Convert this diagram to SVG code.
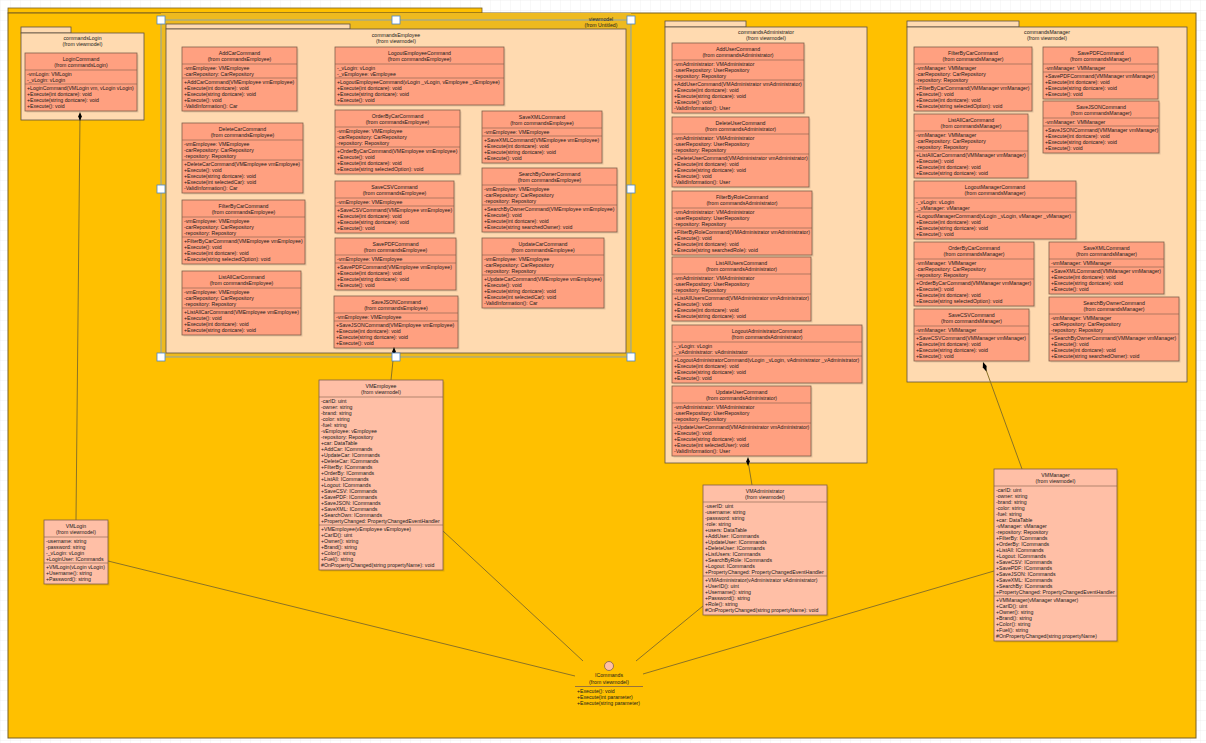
<svg xmlns="http://www.w3.org/2000/svg" width="1206" height="743" viewBox="0 0 1206 743">
<defs>
<pattern id="grid" width="10" height="10" patternUnits="userSpaceOnUse"><path d="M10 0H0V10" fill="none" stroke="#E6E6E6" stroke-width="0.6"/></pattern>
<style>
.t{font-family:"Liberation Sans",Arial,sans-serif;font-size:5.2px;fill:#1A1A1A}
.c{text-anchor:middle}
.cls{fill:#FFA080;stroke:#7F5F4A;stroke-width:0.8}
.vm{fill:#FFBFA6;stroke:#7F5F4A;stroke-width:0.8}
.pk{fill:#FFDAB0;stroke:#5E5043;stroke-width:0.8}
.ln{stroke:#7F5F4A;stroke-width:0.6;fill:none}
.sh{fill:#000;opacity:0.1}
.cn{stroke:#8C7325;stroke-width:1;fill:none}
.hd{fill:#FFFFFF;stroke:#4A86C8;stroke-width:0.8}
</style>
</defs>
<rect width="1206" height="743" fill="#FFFFFF"/>
<rect width="1206" height="743" fill="url(#grid)"/>

<g id="pkg-viewmodel">
<rect x="8" y="8" width="474" height="5" fill="#FFC000" stroke="#7A6020" stroke-width="0.8"/>
<rect x="8" y="13" width="1188" height="725" fill="#FFC000" stroke="#7A6020" stroke-width="1"/>
</g>

<g id="selection-frame">
<rect x="161" y="13" width="470" height="344" fill="#EEBA1F"/>
<rect x="161" y="20" width="470" height="337" fill="none" stroke="#6E9FD6" stroke-width="0.8"/>
</g>
<g id="viewmodel-label">
<text class="t c" x="601" y="20.8">viewmodel</text>
<text class="t c" x="601" y="26.8">(from Untitled)</text>
</g>

<!-- commandsLogin -->
<g id="pkg-commandsLogin">
<rect class="pk" x="21" y="27" width="50" height="6"/>
<rect class="pk" x="21" y="33" width="123" height="87"/>
<text class="t c" x="82.5" y="40">commandsLogin</text>
<text class="t c" x="82.5" y="46">(from viewmodel)</text>
</g>
<g id="login-LoginCommand" transform="translate(25,53)">
<rect class="sh" x="1.5" y="1.5" width="112" height="58"/><rect class="cls" width="112" height="58"/><path class="ln" d="M0 17H112M0 31H112"/>
<text class="t c" x="56" y="7.8">LoginCommand</text><text class="t c" x="56" y="13.8">(from commandsLogin)</text>
<text class="t" x="2" y="22.6"><tspan x="2">-vmLogin: VMLogin</tspan><tspan x="2" dy="6">-_vLogin: vLogin</tspan></text>
<text class="t" x="2" y="37"><tspan x="2">+LoginCommand(VMLogin vm, vLogin vLogin)</tspan><tspan x="2" dy="6">+Execute(int dontcare): void</tspan><tspan x="2" dy="6">+Execute(string dontcare): void</tspan><tspan x="2" dy="6">+Execute(): void</tspan></text>
</g>

<!-- commandsEmployee -->
<g id="pkg-commandsEmployee">
<rect class="pk" x="166" y="24" width="184" height="5"/>
<rect class="pk" x="166" y="29" width="460" height="324"/>
<text class="t c" x="396" y="36.8">commandsEmployee</text>
<text class="t c" x="396" y="42.8">(from viewmodel)</text>
</g>
<g id="emp-AddCarCommand" transform="translate(182,47)">
<rect class="sh" x="1.5" y="1.5" width="115" height="64"/><rect class="cls" width="115" height="64"/><path class="ln" d="M0 17H115M0 31H115"/>
<text class="t c" x="57.5" y="7.8">AddCarCommand</text><text class="t c" x="57.5" y="13.8">(from commandsEmployee)</text>
<text class="t" x="2" y="22.6"><tspan x="2">-vmEmployee: VMEmployee</tspan><tspan x="2" dy="6">-carRepository: CarRepository</tspan></text>
<text class="t" x="2" y="37"><tspan x="2">+AddCarCommand(VMEmployee vmEmployee)</tspan><tspan x="2" dy="6">+Execute(int dontcare): void</tspan><tspan x="2" dy="6">+Execute(string dontcare): void</tspan><tspan x="2" dy="6">+Execute(): void</tspan><tspan x="2" dy="6">-ValidInformation(): Car</tspan></text>
</g>
<g id="emp-DeleteCarCommand" transform="translate(182,123)">
<rect class="sh" x="1.5" y="1.5" width="121" height="70"/><rect class="cls" width="121" height="70"/><path class="ln" d="M0 17H121M0 37H121"/>
<text class="t c" x="60.5" y="7.8">DeleteCarCommand</text><text class="t c" x="60.5" y="13.8">(from commandsEmployee)</text>
<text class="t" x="2" y="22.6"><tspan x="2">-vmEmployee: VMEmployee</tspan><tspan x="2" dy="6">-carRepository: CarRepository</tspan><tspan x="2" dy="6">-repository: Repository</tspan></text>
<text class="t" x="2" y="43"><tspan x="2">+DeleteCarCommand(VMEmployee vmEmployee)</tspan><tspan x="2" dy="6">+Execute(): void</tspan><tspan x="2" dy="6">+Execute(string dontcare): void</tspan><tspan x="2" dy="6">+Execute(int selectedCar): void</tspan><tspan x="2" dy="6">-ValidInformation(): Car</tspan></text>
</g>
<g id="emp-FilterByCarCommand" transform="translate(182,200)">
<rect class="sh" x="1.5" y="1.5" width="123" height="64"/><rect class="cls" width="123" height="64"/><path class="ln" d="M0 17H123M0 37H123"/>
<text class="t c" x="61.5" y="7.8">FilterByCarCommand</text><text class="t c" x="61.5" y="13.8">(from commandsEmployee)</text>
<text class="t" x="2" y="22.6"><tspan x="2">-vmEmployee: VMEmployee</tspan><tspan x="2" dy="6">-carRepository: CarRepository</tspan><tspan x="2" dy="6">-repository: Repository</tspan></text>
<text class="t" x="2" y="43"><tspan x="2">+FilterByCarCommand(VMEmployee vmEmployee)</tspan><tspan x="2" dy="6">+Execute(): void</tspan><tspan x="2" dy="6">+Execute(int dontcare): void</tspan><tspan x="2" dy="6">+Execute(string selectedOption): void</tspan></text>
</g>
<g id="emp-ListAllCarCommand" transform="translate(182,271)">
<rect class="sh" x="1.5" y="1.5" width="119" height="64"/><rect class="cls" width="119" height="64"/><path class="ln" d="M0 17H119M0 37H119"/>
<text class="t c" x="59.5" y="7.8">ListAllCarCommand</text><text class="t c" x="59.5" y="13.8">(from commandsEmployee)</text>
<text class="t" x="2" y="22.6"><tspan x="2">-vmEmployee: VMEmployee</tspan><tspan x="2" dy="6">-carRepository: CarRepository</tspan><tspan x="2" dy="6">-repository: Repository</tspan></text>
<text class="t" x="2" y="43"><tspan x="2">+ListAllCarCommand(VMEmployee vmEmployee)</tspan><tspan x="2" dy="6">+Execute(): void</tspan><tspan x="2" dy="6">+Execute(int dontcare): void</tspan><tspan x="2" dy="6">+Execute(string dontcare): void</tspan></text>
</g>
<g id="emp-LogoutEmployeeCommand" transform="translate(335,47)">
<rect class="sh" x="1.5" y="1.5" width="169" height="58"/><rect class="cls" width="169" height="58"/><path class="ln" d="M0 17H169M0 31H169"/>
<text class="t c" x="84.5" y="7.8">LogoutEmployeeCommand</text><text class="t c" x="84.5" y="13.8">(from commandsEmployee)</text>
<text class="t" x="2" y="22.6"><tspan x="2">-_vLogin: vLogin</tspan><tspan x="2" dy="6">-_vEmployee: vEmployee</tspan></text>
<text class="t" x="2" y="37"><tspan x="2">+LogoutEmployeeCommand(vLogin _vLogin, vEmployee _vEmployee)</tspan><tspan x="2" dy="6">+Execute(int dontcare): void</tspan><tspan x="2" dy="6">+Execute(string dontcare): void</tspan><tspan x="2" dy="6">+Execute(): void</tspan></text>
</g>
<g id="emp-OrderByCarCommand" transform="translate(335,110)">
<rect class="sh" x="1.5" y="1.5" width="125" height="64"/><rect class="cls" width="125" height="64"/><path class="ln" d="M0 17H125M0 37H125"/>
<text class="t c" x="62.5" y="7.8">OrderByCarCommand</text><text class="t c" x="62.5" y="13.8">(from commandsEmployee)</text>
<text class="t" x="2" y="22.6"><tspan x="2">-vmEmployee: VMEmployee</tspan><tspan x="2" dy="6">-carRepository: CarRepository</tspan><tspan x="2" dy="6">-repository: Repository</tspan></text>
<text class="t" x="2" y="43"><tspan x="2">+OrderByCarCommand(VMEmployee vmEmployee)</tspan><tspan x="2" dy="6">+Execute(): void</tspan><tspan x="2" dy="6">+Execute(int dontcare): void</tspan><tspan x="2" dy="6">+Execute(string selectedOption): void</tspan></text>
</g>
<g id="emp-SaveCSVCommand" transform="translate(335,181)">
<rect class="sh" x="1.5" y="1.5" width="119" height="52"/><rect class="cls" width="119" height="52"/><path class="ln" d="M0 17H119M0 25H119"/>
<text class="t c" x="59.5" y="7.8">SaveCSVCommand</text><text class="t c" x="59.5" y="13.8">(from commandsEmployee)</text>
<text class="t" x="2" y="22.6">-vmEmployee: VMEmployee</text>
<text class="t" x="2" y="31"><tspan x="2">+SaveCSVCommand(VMEmployee vmEmployee)</tspan><tspan x="2" dy="6">+Execute(int dontcare): void</tspan><tspan x="2" dy="6">+Execute(string dontcare): void</tspan><tspan x="2" dy="6">+Execute(): void</tspan></text>
</g>
<g id="emp-SavePDFCommand" transform="translate(335,238)">
<rect class="sh" x="1.5" y="1.5" width="121" height="52"/><rect class="cls" width="121" height="52"/><path class="ln" d="M0 17H121M0 25H121"/>
<text class="t c" x="60.5" y="7.8">SavePDFCommand</text><text class="t c" x="60.5" y="13.8">(from commandsEmployee)</text>
<text class="t" x="2" y="22.6">-vmEmployee: VMEmployee</text>
<text class="t" x="2" y="31"><tspan x="2">+SavePDFCommand(VMEmployee vmEmployee)</tspan><tspan x="2" dy="6">+Execute(int dontcare): void</tspan><tspan x="2" dy="6">+Execute(string dontcare): void</tspan><tspan x="2" dy="6">+Execute(): void</tspan></text>
</g>
<g id="emp-SaveJSONCommand" transform="translate(334,296)">
<rect class="sh" x="1.5" y="1.5" width="124" height="52"/><rect class="cls" width="124" height="52"/><path class="ln" d="M0 17H124M0 25H124"/>
<text class="t c" x="62" y="7.8">SaveJSONCommand</text><text class="t c" x="62" y="13.8">(from commandsEmployee)</text>
<text class="t" x="2" y="22.6">-vmEmployee: VMEmployee</text>
<text class="t" x="2" y="31"><tspan x="2">+SaveJSONCommand(VMEmployee vmEmployee)</tspan><tspan x="2" dy="6">+Execute(int dontcare): void</tspan><tspan x="2" dy="6">+Execute(string dontcare): void</tspan><tspan x="2" dy="6">+Execute(): void</tspan></text>
</g>
<g id="emp-SaveXMLCommand" transform="translate(482,111)">
<rect class="sh" x="1.5" y="1.5" width="120" height="52"/><rect class="cls" width="120" height="52"/><path class="ln" d="M0 17H120M0 25H120"/>
<text class="t c" x="60" y="7.8">SaveXMLCommand</text><text class="t c" x="60" y="13.8">(from commandsEmployee)</text>
<text class="t" x="2" y="22.6">-vmEmployee: VMEmployee</text>
<text class="t" x="2" y="31"><tspan x="2">+SaveXMLCommand(VMEmployee vmEmployee)</tspan><tspan x="2" dy="6">+Execute(int dontcare): void</tspan><tspan x="2" dy="6">+Execute(string dontcare): void</tspan><tspan x="2" dy="6">+Execute(): void</tspan></text>
</g>
<g id="emp-SearchByOwnerCommand" transform="translate(482,168)">
<rect class="sh" x="1.5" y="1.5" width="135" height="64"/><rect class="cls" width="135" height="64"/><path class="ln" d="M0 17H135M0 37H135"/>
<text class="t c" x="67.5" y="7.8">SearchByOwnerCommand</text><text class="t c" x="67.5" y="13.8">(from commandsEmployee)</text>
<text class="t" x="2" y="22.6"><tspan x="2">-vmEmployee: VMEmployee</tspan><tspan x="2" dy="6">-carRepository: CarRepository</tspan><tspan x="2" dy="6">-repository: Repository</tspan></text>
<text class="t" x="2" y="43"><tspan x="2">+SearchByOwnerCommand(VMEmployee vmEmployee)</tspan><tspan x="2" dy="6">+Execute(): void</tspan><tspan x="2" dy="6">+Execute(int dontcare): void</tspan><tspan x="2" dy="6">+Execute(string searchedOwner): void</tspan></text>
</g>
<g id="emp-UpdateCarCommand" transform="translate(482,238)">
<rect class="sh" x="1.5" y="1.5" width="122" height="70"/><rect class="cls" width="122" height="70"/><path class="ln" d="M0 17H122M0 37H122"/>
<text class="t c" x="61" y="7.8">UpdateCarCommand</text><text class="t c" x="61" y="13.8">(from commandsEmployee)</text>
<text class="t" x="2" y="22.6"><tspan x="2">-vmEmployee: VMEmployee</tspan><tspan x="2" dy="6">-carRepository: CarRepository</tspan><tspan x="2" dy="6">-repository: Repository</tspan></text>
<text class="t" x="2" y="43"><tspan x="2">+UpdateCarCommand(VMEmployee vmEmployee)</tspan><tspan x="2" dy="6">+Execute(): void</tspan><tspan x="2" dy="6">+Execute(string dontcare): void</tspan><tspan x="2" dy="6">+Execute(int selectedCar): void</tspan><tspan x="2" dy="6">-ValidInformation(): Car</tspan></text>
</g>

<!-- commandsAdministrator -->
<g id="pkg-commandsAdministrator">
<rect class="pk" x="665" y="21" width="81" height="6"/>
<rect class="pk" x="665" y="27" width="202" height="436"/>
<text class="t c" x="766" y="34.1">commandsAdministrator</text>
<text class="t c" x="766" y="40.1">(from viewmodel)</text>
</g>
<g id="adm-AddUserCommand" transform="translate(672,43)">
<rect class="sh" x="1.5" y="1.5" width="132" height="70"/><rect class="cls" width="132" height="70"/><path class="ln" d="M0 17H132M0 37H132"/>
<text class="t c" x="66" y="7.8">AddUserCommand</text><text class="t c" x="66" y="13.8">(from commandsAdministrator)</text>
<text class="t" x="2" y="22.6"><tspan x="2">-vmAdministrator: VMAdministrator</tspan><tspan x="2" dy="6">-userRepository: UserRepository</tspan><tspan x="2" dy="6">-repository: Repository</tspan></text>
<text class="t" x="2" y="43"><tspan x="2">+AddUserCommand(VMAdministrator vmAdministrator)</tspan><tspan x="2" dy="6">+Execute(int dontcare): void</tspan><tspan x="2" dy="6">+Execute(string dontcare): void</tspan><tspan x="2" dy="6">+Execute(): void</tspan><tspan x="2" dy="6">-ValidInformation(): User</tspan></text>
</g>
<g id="adm-DeleteUserCommand" transform="translate(672,117)">
<rect class="sh" x="1.5" y="1.5" width="137" height="70"/><rect class="cls" width="137" height="70"/><path class="ln" d="M0 17H137M0 37H137"/>
<text class="t c" x="68.5" y="7.8">DeleteUserCommand</text><text class="t c" x="68.5" y="13.8">(from commandsAdministrator)</text>
<text class="t" x="2" y="22.6"><tspan x="2">-vmAdministrator: VMAdministrator</tspan><tspan x="2" dy="6">-userRepository: UserRepository</tspan><tspan x="2" dy="6">-repository: Repository</tspan></text>
<text class="t" x="2" y="43"><tspan x="2">+DeleteUserCommand(VMAdministrator vmAdministrator)</tspan><tspan x="2" dy="6">+Execute(int dontcare): void</tspan><tspan x="2" dy="6">+Execute(string dontcare): void</tspan><tspan x="2" dy="6">+Execute(): void</tspan><tspan x="2" dy="6">-ValidInformation(): User</tspan></text>
</g>
<g id="adm-FilterByRoleCommand" transform="translate(672,191)">
<rect class="sh" x="1.5" y="1.5" width="140" height="64"/><rect class="cls" width="140" height="64"/><path class="ln" d="M0 17H140M0 37H140"/>
<text class="t c" x="70" y="7.8">FilterByRoleCommand</text><text class="t c" x="70" y="13.8">(from commandsAdministrator)</text>
<text class="t" x="2" y="22.6"><tspan x="2">-vmAdministrator: VMAdministrator</tspan><tspan x="2" dy="6">-userRepository: UserRepository</tspan><tspan x="2" dy="6">-repository: Repository</tspan></text>
<text class="t" x="2" y="43"><tspan x="2">+FilterByRoleCommand(VMAdministrator vmAdministrator)</tspan><tspan x="2" dy="6">+Execute(): void</tspan><tspan x="2" dy="6">+Execute(int dontcare): void</tspan><tspan x="2" dy="6">+Execute(string searchedRole): void</tspan></text>
</g>
<g id="adm-ListAllUsersCommand" transform="translate(672,257)">
<rect class="sh" x="1.5" y="1.5" width="139" height="64"/><rect class="cls" width="139" height="64"/><path class="ln" d="M0 17H139M0 37H139"/>
<text class="t c" x="69.5" y="7.8">ListAllUsersCommand</text><text class="t c" x="69.5" y="13.8">(from commandsAdministrator)</text>
<text class="t" x="2" y="22.6"><tspan x="2">-vmAdministrator: VMAdministrator</tspan><tspan x="2" dy="6">-userRepository: UserRepository</tspan><tspan x="2" dy="6">-repository: Repository</tspan></text>
<text class="t" x="2" y="43"><tspan x="2">+ListAllUsersCommand(VMAdministrator vmAdministrator)</tspan><tspan x="2" dy="6">+Execute(): void</tspan><tspan x="2" dy="6">+Execute(int dontcare): void</tspan><tspan x="2" dy="6">+Execute(string dontcare): void</tspan></text>
</g>
<g id="adm-LogoutAdministratorCommand" transform="translate(672,325)">
<rect class="sh" x="1.5" y="1.5" width="190" height="58"/><rect class="cls" width="190" height="58"/><path class="ln" d="M0 17H190M0 31H190"/>
<text class="t c" x="95" y="7.8">LogoutAdministratorCommand</text><text class="t c" x="95" y="13.8">(from commandsAdministrator)</text>
<text class="t" x="2" y="22.6"><tspan x="2">-_vLogin: vLogin</tspan><tspan x="2" dy="6">-_vAdministrator: vAdministrator</tspan></text>
<text class="t" x="2" y="37"><tspan x="2">+LogoutAdministratorCommand(vLogin _vLogin, vAdministrator _vAdministrator)</tspan><tspan x="2" dy="6">+Execute(int dontcare): void</tspan><tspan x="2" dy="6">+Execute(string dontcare): void</tspan><tspan x="2" dy="6">+Execute(): void</tspan></text>
</g>
<g id="adm-UpdateUserCommand" transform="translate(672,386)">
<rect class="sh" x="1.5" y="1.5" width="139" height="70"/><rect class="cls" width="139" height="70"/><path class="ln" d="M0 17H139M0 37H139"/>
<text class="t c" x="69.5" y="7.8">UpdateUserCommand</text><text class="t c" x="69.5" y="13.8">(from commandsAdministrator)</text>
<text class="t" x="2" y="22.6"><tspan x="2">-vmAdministrator: VMAdministrator</tspan><tspan x="2" dy="6">-userRepository: UserRepository</tspan><tspan x="2" dy="6">-repository: Repository</tspan></text>
<text class="t" x="2" y="43"><tspan x="2">+UpdateUserCommand(VMAdministrator vmAdministrator)</tspan><tspan x="2" dy="6">+Execute(): void</tspan><tspan x="2" dy="6">+Execute(string dontcare): void</tspan><tspan x="2" dy="6">+Execute(int selectedUser): void</tspan><tspan x="2" dy="6">-ValidInformation(): User</tspan></text>
</g>

<!-- commandsManager -->
<g id="pkg-commandsManager">
<rect class="pk" x="907" y="21" width="112" height="6"/>
<rect class="pk" x="907" y="27" width="280" height="355"/>
<text class="t c" x="1047" y="34.1">commandsManager</text>
<text class="t c" x="1047" y="40.1">(from viewmodel)</text>
</g>
<g id="mgr-FilterByCarCommand" transform="translate(914,47)">
<rect class="sh" x="1.5" y="1.5" width="118" height="64"/><rect class="cls" width="118" height="64"/><path class="ln" d="M0 17H118M0 37H118"/>
<text class="t c" x="59" y="7.8">FilterByCarCommand</text><text class="t c" x="59" y="13.8">(from commandsManager)</text>
<text class="t" x="2" y="22.6"><tspan x="2">-vmManager: VMManager</tspan><tspan x="2" dy="6">-carRepository: CarRepository</tspan><tspan x="2" dy="6">-repository: Repository</tspan></text>
<text class="t" x="2" y="43"><tspan x="2">+FilterByCarCommand(VMManager vmManager)</tspan><tspan x="2" dy="6">+Execute(): void</tspan><tspan x="2" dy="6">+Execute(int dontcare): void</tspan><tspan x="2" dy="6">+Execute(string selectedOption): void</tspan></text>
</g>
<g id="mgr-SavePDFCommand" transform="translate(1043,47)">
<rect class="sh" x="1.5" y="1.5" width="115" height="52"/><rect class="cls" width="115" height="52"/><path class="ln" d="M0 17H115M0 25H115"/>
<text class="t c" x="57.5" y="7.8">SavePDFCommand</text><text class="t c" x="57.5" y="13.8">(from commandsManager)</text>
<text class="t" x="2" y="22.6">-vmManager: VMManager</text>
<text class="t" x="2" y="31"><tspan x="2">+SavePDFCommand(VMManager vmManager)</tspan><tspan x="2" dy="6">+Execute(int dontcare): void</tspan><tspan x="2" dy="6">+Execute(string dontcare): void</tspan><tspan x="2" dy="6">+Execute(): void</tspan></text>
</g>
<g id="mgr-SaveJSONCommand" transform="translate(1043,101)">
<rect class="sh" x="1.5" y="1.5" width="116" height="52"/><rect class="cls" width="116" height="52"/><path class="ln" d="M0 17H116M0 25H116"/>
<text class="t c" x="58" y="7.8">SaveJSONCommand</text><text class="t c" x="58" y="13.8">(from commandsManager)</text>
<text class="t" x="2" y="22.6">-vmManager: VMManager</text>
<text class="t" x="2" y="31"><tspan x="2">+SaveJSONCommand(VMManager vmManager)</tspan><tspan x="2" dy="6">+Execute(int dontcare): void</tspan><tspan x="2" dy="6">+Execute(string dontcare): void</tspan><tspan x="2" dy="6">+Execute(): void</tspan></text>
</g>
<g id="mgr-ListAllCarCommand" transform="translate(914,114)">
<rect class="sh" x="1.5" y="1.5" width="114" height="64"/><rect class="cls" width="114" height="64"/><path class="ln" d="M0 17H114M0 37H114"/>
<text class="t c" x="57" y="7.8">ListAllCarCommand</text><text class="t c" x="57" y="13.8">(from commandsManager)</text>
<text class="t" x="2" y="22.6"><tspan x="2">-vmManager: VMManager</tspan><tspan x="2" dy="6">-carRepository: CarRepository</tspan><tspan x="2" dy="6">-repository: Repository</tspan></text>
<text class="t" x="2" y="43"><tspan x="2">+ListAllCarCommand(VMManager vmManager)</tspan><tspan x="2" dy="6">+Execute(): void</tspan><tspan x="2" dy="6">+Execute(int dontcare): void</tspan><tspan x="2" dy="6">+Execute(string dontcare): void</tspan></text>
</g>
<g id="mgr-LogoutManagerCommand" transform="translate(914,181)">
<rect class="sh" x="1.5" y="1.5" width="162" height="58"/><rect class="cls" width="162" height="58"/><path class="ln" d="M0 17H162M0 31H162"/>
<text class="t c" x="81" y="7.8">LogoutManagerCommand</text><text class="t c" x="81" y="13.8">(from commandsManager)</text>
<text class="t" x="2" y="22.6"><tspan x="2">-_vLogin: vLogin</tspan><tspan x="2" dy="6">-_vManager: vManager</tspan></text>
<text class="t" x="2" y="37"><tspan x="2">+LogoutManagerCommand(vLogin _vLogin, vManager _vManager)</tspan><tspan x="2" dy="6">+Execute(int dontcare): void</tspan><tspan x="2" dy="6">+Execute(string dontcare): void</tspan><tspan x="2" dy="6">+Execute(): void</tspan></text>
</g>
<g id="mgr-OrderByCarCommand" transform="translate(914,242)">
<rect class="sh" x="1.5" y="1.5" width="120" height="64"/><rect class="cls" width="120" height="64"/><path class="ln" d="M0 17H120M0 37H120"/>
<text class="t c" x="60" y="7.8">OrderByCarCommand</text><text class="t c" x="60" y="13.8">(from commandsManager)</text>
<text class="t" x="2" y="22.6"><tspan x="2">-vmManager: VMManager</tspan><tspan x="2" dy="6">-carRepository: CarRepository</tspan><tspan x="2" dy="6">-repository: Repository</tspan></text>
<text class="t" x="2" y="43"><tspan x="2">+OrderByCarCommand(VMManager vmManager)</tspan><tspan x="2" dy="6">+Execute(): void</tspan><tspan x="2" dy="6">+Execute(int dontcare): void</tspan><tspan x="2" dy="6">+Execute(string selectedOption): void</tspan></text>
</g>
<g id="mgr-SaveCSVCommand" transform="translate(914,309)">
<rect class="sh" x="1.5" y="1.5" width="115" height="52"/><rect class="cls" width="115" height="52"/><path class="ln" d="M0 17H115M0 25H115"/>
<text class="t c" x="57.5" y="7.8">SaveCSVCommand</text><text class="t c" x="57.5" y="13.8">(from commandsManager)</text>
<text class="t" x="2" y="22.6">-vmManager: VMManager</text>
<text class="t" x="2" y="31"><tspan x="2">+SaveCSVCommand(VMManager vmManager)</tspan><tspan x="2" dy="6">+Execute(int dontcare): void</tspan><tspan x="2" dy="6">+Execute(string dontcare): void</tspan><tspan x="2" dy="6">+Execute(): void</tspan></text>
</g>
<g id="mgr-SaveXMLCommand" transform="translate(1049,242)">
<rect class="sh" x="1.5" y="1.5" width="115" height="52"/><rect class="cls" width="115" height="52"/><path class="ln" d="M0 17H115M0 25H115"/>
<text class="t c" x="57.5" y="7.8">SaveXMLCommand</text><text class="t c" x="57.5" y="13.8">(from commandsManager)</text>
<text class="t" x="2" y="22.6">-vmManager: VMManager</text>
<text class="t" x="2" y="31"><tspan x="2">+SaveXMLCommand(VMManager vmManager)</tspan><tspan x="2" dy="6">+Execute(int dontcare): void</tspan><tspan x="2" dy="6">+Execute(string dontcare): void</tspan><tspan x="2" dy="6">+Execute(): void</tspan></text>
</g>
<g id="mgr-SearchByOwnerCommand" transform="translate(1049,297)">
<rect class="sh" x="1.5" y="1.5" width="130" height="64"/><rect class="cls" width="130" height="64"/><path class="ln" d="M0 17H130M0 37H130"/>
<text class="t c" x="65" y="7.8">SearchByOwnerCommand</text><text class="t c" x="65" y="13.8">(from commandsManager)</text>
<text class="t" x="2" y="22.6"><tspan x="2">-vmManager: VMManager</tspan><tspan x="2" dy="6">-carRepository: CarRepository</tspan><tspan x="2" dy="6">-repository: Repository</tspan></text>
<text class="t" x="2" y="43"><tspan x="2">+SearchByOwnerCommand(VMManager vmManager)</tspan><tspan x="2" dy="6">+Execute(): void</tspan><tspan x="2" dy="6">+Execute(int dontcare): void</tspan><tspan x="2" dy="6">+Execute(string searchedOwner): void</tspan></text>
</g>

<!-- connectors -->
<g id="connectors">
<line class="cn" x1="108" y1="561" x2="575" y2="676"/>
<line class="cn" x1="443" y1="531" x2="583" y2="661"/>
<line class="cn" x1="703" y1="606" x2="636" y2="661"/>
<line class="cn" x1="994" y1="571" x2="643" y2="674"/>
<line class="cn" x1="76" y1="520" x2="80" y2="116"/>
<polygon points="80,112 81.8,116.5 80,121 78.2,116.5" fill="#000"/>
<line class="cn" x1="391" y1="380" x2="394" y2="351"/>
<polygon points="394,347 395.8,351.5 394,356 392.2,351.5" fill="#000"/>
<line class="cn" x1="752" y1="485" x2="748" y2="461"/>
<polygon points="748,457 749.8,461.5 748,466 746.2,461.5" fill="#000"/>
<line class="cn" x1="1022" y1="469" x2="985" y2="367"/>
<polygon points="983,362 986.6,366 986.4,371.4 982.8,367.4" fill="#000"/>
</g>

<!-- view model classes -->
<g id="VMLogin" transform="translate(44,520)">
<rect class="sh" x="1.5" y="1.5" width="64" height="64"/><rect class="vm" width="64" height="64"/><path class="ln" d="M0 17H64M0 43H64"/>
<text class="t c" x="32" y="7.8">VMLogin</text><text class="t c" x="32" y="13.8">(from viewmodel)</text>
<text class="t" x="2" y="22.6"><tspan x="2">-username: string</tspan><tspan x="2" dy="6">-password: string</tspan><tspan x="2" dy="6">-_vLogin: vLogin</tspan><tspan x="2" dy="6">+LoginUser: ICommands</tspan></text>
<text class="t" x="2" y="49"><tspan x="2">+VMLogin(vLogin vLogin)</tspan><tspan x="2" dy="6">+Username(): string</tspan><tspan x="2" dy="6">+Password(): string</tspan></text>
</g>
<g id="VMEmployee" transform="translate(319,380)">
<rect class="sh" x="1.5" y="1.5" width="124" height="190"/><rect class="vm" width="124" height="190"/><path class="ln" d="M0 17H124M0 145H124"/>
<text class="t c" x="62" y="7.8">VMEmployee</text><text class="t c" x="62" y="13.8">(from viewmodel)</text>
<text class="t" x="2" y="22.6"><tspan x="2">-carID: uint</tspan><tspan x="2" dy="6">-owner: string</tspan><tspan x="2" dy="6">-brand: string</tspan><tspan x="2" dy="6">-color: string</tspan><tspan x="2" dy="6">-fuel: string</tspan><tspan x="2" dy="6">-vEmployee: vEmployee</tspan><tspan x="2" dy="6">-repository: Repository</tspan><tspan x="2" dy="6">+car: DataTable</tspan><tspan x="2" dy="6">+AddCar: ICommands</tspan><tspan x="2" dy="6">+UpdateCar: ICommands</tspan><tspan x="2" dy="6">+DeleteCar: ICommands</tspan><tspan x="2" dy="6">+FilterBy: ICommands</tspan><tspan x="2" dy="6">+OrderBy: ICommands</tspan><tspan x="2" dy="6">+ListAll: ICommands</tspan><tspan x="2" dy="6">+Logout: ICommands</tspan><tspan x="2" dy="6">+SaveCSV: ICommands</tspan><tspan x="2" dy="6">+SavePDF: ICommands</tspan><tspan x="2" dy="6">+SaveJSON: ICommands</tspan><tspan x="2" dy="6">+SaveXML: ICommands</tspan><tspan x="2" dy="6">+SearchOwn: ICommands</tspan><tspan x="2" dy="6">+PropertyChanged: PropertyChangedEventHandler</tspan></text>
<text class="t" x="2" y="151"><tspan x="2">+VMEmployee(vEmployee vEmployee)</tspan><tspan x="2" dy="6">+CarID(): uint</tspan><tspan x="2" dy="6">+Owner(): string</tspan><tspan x="2" dy="6">+Brand(): string</tspan><tspan x="2" dy="6">+Color(): string</tspan><tspan x="2" dy="6">+Fuel(): string</tspan><tspan x="2" dy="6">#OnPropertyChanged(string propertyName): void</tspan></text>
</g>
<g id="VMAdministrator" transform="translate(703,485)">
<rect class="sh" x="1.5" y="1.5" width="124" height="130"/><rect class="vm" width="124" height="130"/><path class="ln" d="M0 17H124M0 91H124"/>
<text class="t c" x="62" y="7.8">VMAdministrator</text><text class="t c" x="62" y="13.8">(from viewmodel)</text>
<text class="t" x="2" y="22.6"><tspan x="2">-userID: uint</tspan><tspan x="2" dy="6">-username: string</tspan><tspan x="2" dy="6">-password: string</tspan><tspan x="2" dy="6">-role: string</tspan><tspan x="2" dy="6">+users: DataTable</tspan><tspan x="2" dy="6">+AddUser: ICommands</tspan><tspan x="2" dy="6">+UpdateUser: ICommands</tspan><tspan x="2" dy="6">+DeleteUser: ICommands</tspan><tspan x="2" dy="6">+ListUsers: ICommands</tspan><tspan x="2" dy="6">+SearchByRole: ICommands</tspan><tspan x="2" dy="6">+Logout: ICommands</tspan><tspan x="2" dy="6">+PropertyChanged: PropertyChangedEventHandler</tspan></text>
<text class="t" x="2" y="97"><tspan x="2">+VMAdministrator(vAdministrator vAdministrator)</tspan><tspan x="2" dy="6">+UserID(): uint</tspan><tspan x="2" dy="6">+Username(): string</tspan><tspan x="2" dy="6">+Password(): string</tspan><tspan x="2" dy="6">+Role(): string</tspan><tspan x="2" dy="6">#OnPropertyChanged(string propertyName): void</tspan></text>
</g>
<g id="VMManager" transform="translate(994,469)">
<rect class="sh" x="1.5" y="1.5" width="123" height="172"/><rect class="vm" width="123" height="172"/><path class="ln" d="M0 17H123M0 127H123"/>
<text class="t c" x="61.5" y="7.8">VMManager</text><text class="t c" x="61.5" y="13.8">(from viewmodel)</text>
<text class="t" x="2" y="22.6"><tspan x="2">-carID: uint</tspan><tspan x="2" dy="6">-owner: string</tspan><tspan x="2" dy="6">-brand: string</tspan><tspan x="2" dy="6">-color: string</tspan><tspan x="2" dy="6">-fuel: string</tspan><tspan x="2" dy="6">+car: DataTable</tspan><tspan x="2" dy="6">-vManager: vManager</tspan><tspan x="2" dy="6">-repository: Repository</tspan><tspan x="2" dy="6">+FilterBy: ICommands</tspan><tspan x="2" dy="6">+OrderBy: ICommands</tspan><tspan x="2" dy="6">+ListAll: ICommands</tspan><tspan x="2" dy="6">+Logout: ICommands</tspan><tspan x="2" dy="6">+SaveCSV: ICommands</tspan><tspan x="2" dy="6">+SavePDF: ICommands</tspan><tspan x="2" dy="6">+SaveJSON: ICommands</tspan><tspan x="2" dy="6">+SaveXML: ICommands</tspan><tspan x="2" dy="6">+SearchBy: ICommands</tspan><tspan x="2" dy="6">+PropertyChanged: PropertyChangedEventHandler</tspan></text>
<text class="t" x="2" y="133"><tspan x="2">+VMManager(vManager vManager)</tspan><tspan x="2" dy="6">+CarID(): uint</tspan><tspan x="2" dy="6">+Owner(): string</tspan><tspan x="2" dy="6">+Brand(): string</tspan><tspan x="2" dy="6">+Color(): string</tspan><tspan x="2" dy="6">+Fuel(): string</tspan><tspan x="2" dy="6">#OnPropertyChanged(string propertyName)</tspan></text>
</g>
<g id="ICommands">
<circle cx="609" cy="666" r="4.5" fill="#FFBFA6" stroke="#7F5F4A" stroke-width="0.8"/>
<text class="t c" x="609" y="677.3">ICommands</text>
<text class="t c" x="609" y="683.6">(from viewmodel)</text>
<line x1="575" y1="686.5" x2="643" y2="686.5" stroke="#7F5F4A" stroke-width="0.8"/>
<text class="t" x="577" y="692.5"><tspan x="577">+Execute(): void</tspan><tspan x="577" dy="6">+Execute(int parameter)</tspan><tspan x="577" dy="6">+Execute(string parameter)</tspan></text>
</g>

<g id="selection-handles">
<rect class="hd" x="157" y="16" width="8" height="8"/>
<rect class="hd" x="392" y="16" width="8" height="8"/>
<rect class="hd" x="627" y="16" width="8" height="8"/>
<rect class="hd" x="157" y="185" width="8" height="8"/>
<rect class="hd" x="627" y="185" width="8" height="8"/>
<rect class="hd" x="157" y="353" width="8" height="8"/>
<rect class="hd" x="392" y="353" width="8" height="8"/>
<rect class="hd" x="627" y="353" width="8" height="8"/>
</g>
</svg>
